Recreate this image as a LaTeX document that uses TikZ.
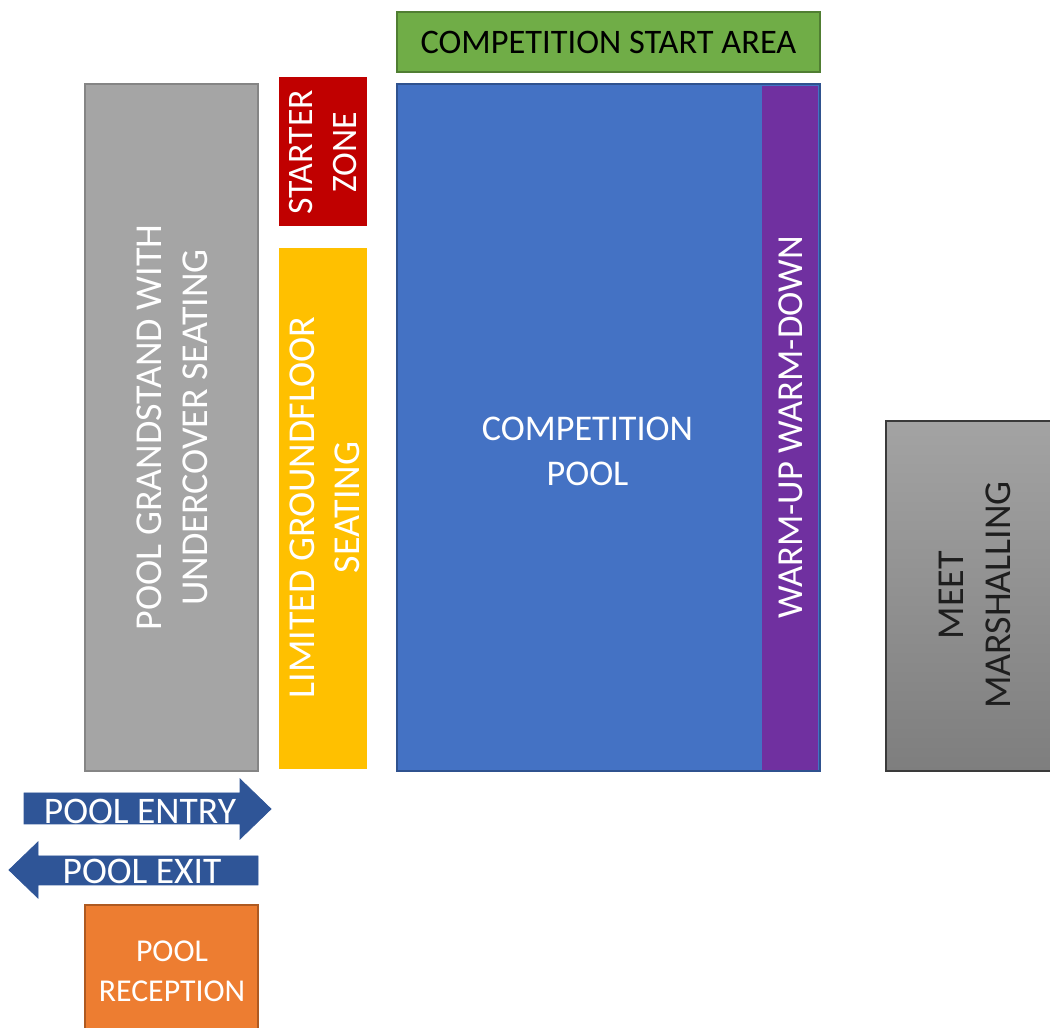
\documentclass[tikz,border=0pt]{standalone}
\usepackage{fontspec}
\setmainfont{Carlito}
\definecolor{cgreen}{HTML}{70AD47}
\definecolor{cgreenb}{HTML}{507E32}
\definecolor{cblue}{HTML}{4472C4}
\definecolor{cblueb}{HTML}{2F528F}
\definecolor{cpurple}{HTML}{7030A0}
\definecolor{cred}{HTML}{C00000}
\definecolor{cyellow}{HTML}{FFC000}
\definecolor{cgrey}{HTML}{A5A5A5}
\definecolor{cgreyb}{HTML}{858585}
\definecolor{corange}{HTML}{ED7D31}
\definecolor{corangeb}{HTML}{AE5A21}
\definecolor{carrow}{HTML}{2F5597}
\definecolor{cmtop}{HTML}{A3A3A3}
\definecolor{cmbot}{HTML}{7E7E7E}
\definecolor{cmb}{HTML}{3A3A3A}
\definecolor{cmtext}{HTML}{1E1E1E}
\newcommand\fsz[2]{\fontsize{#1}{#2}\selectfont}
\tikzset{
  area/.style={rectangle, inner sep=0pt, outer sep=0pt},
  lbl/.style={align=center, inner sep=0pt, outer sep=0pt, text=white},
  arrowshape/.style={fill=carrow, draw=carrow, line width=0.8pt, line join=miter},
}
\begin{document}
\begin{tikzpicture}[x=1pt,y=1pt]
\useasboundingbox (0,0) rectangle (1050,1028);
\clip (0,0) rectangle (1050,1028);

% competition start area
\node[area, fill=cgreen, draw=cgreenb, line width=1.5pt, minimum width=423pt, minimum height=60pt] (start) at (608.5,986) {};
\node[lbl, text=black, font=\fsz{34.4}{41}] (starttxt) at (start) {COMPETITION START AREA};

% competition pool
\node[area, fill=cblue, draw=cblueb, line width=1.5pt, minimum width=423pt, minimum height=687pt] (pool) at (608.5,600.5) {};
\node[area, fill=cpurple, minimum width=56pt, minimum height=684pt] (warm) at (790,600) {};
\node[lbl, font=\fsz{36.2}{45}] (pooltxt) at (587.5,576.5) {COMPETITION\\POOL};
\node[lbl, rotate=90, font=\fsz{36.6}{44}] (warmtxt) at (791,600.5) {WARM-UP WARM-DOWN};

% grandstand
\node[area, fill=cgrey, draw=cgreyb, line width=2pt, minimum width=173pt, minimum height=687pt] (stand) at (171.5,600.5) {};
\node[lbl, rotate=90, font=\fsz{38}{46}] (standtxt) at (172,600.5) {POOL GRANDSTAND WITH\\UNDERCOVER SEATING};

% starter zone
\node[area, fill=cred, minimum width=88pt, minimum height=149pt] (starter) at (323,876.5) {};
\node[lbl, rotate=90, font=\fsz{35.8}{44}] (startertxt) at (323.5,875.5) {STARTER\\ZONE};

% limited groundfloor seating
\node[area, fill=cyellow, minimum width=88pt, minimum height=521pt] (ground) at (323,519.5) {};
\node[lbl, rotate=90, font=\fsz{38}{45}] (groundtxt) at (325,520.5) {LIMITED GROUNDFLOOR\\SEATING};

% meet marshalling
\node[area, top color=cmtop, bottom color=cmbot, draw=cmb, line width=1.5pt, minimum width=176pt, minimum height=350pt] (marsh) at (974,432) {};
\node[lbl, rotate=90, text=cmtext, font=\fsz{38}{47}] (marshtxt) at (975,433) {MEET\\MARSHALLING};

% pool reception
\node[area, fill=corange, draw=corangeb, line width=1.5pt, minimum width=173pt, minimum height=135pt] (recep) at (171.5,55.5) {};
\node[lbl, font=\fsz{31.8}{40}] (receptxt) at (172,57) {POOL\\RECEPTION};

% entry / exit arrows
\draw[arrowshape] (24,235) -- (240,235) -- (240,249) -- (271,219) -- (240,189) -- (240,204) -- (24,204) -- cycle;
\node[lbl, font=\fsz{37.5}{44}] (entrytxt) at (140,217) {POOL ENTRY};
\draw[arrowshape] (258,172) -- (38,172) -- (38,186) -- (9,158) -- (38,130) -- (38,143) -- (258,143) -- cycle;
\node[lbl, font=\fsz{37.5}{44}] (exittxt) at (142,156.5) {POOL EXIT};
\end{tikzpicture}
\end{document}
